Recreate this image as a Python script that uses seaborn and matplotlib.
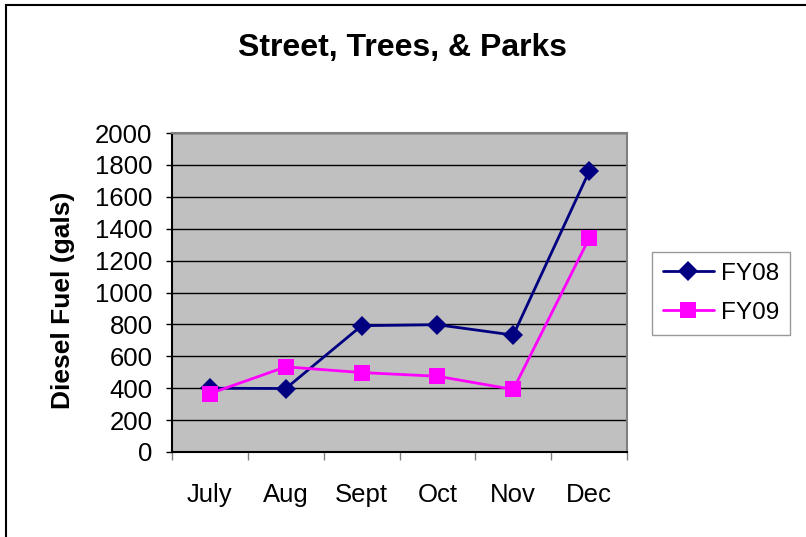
import pandas as pd
import numpy as np
import matplotlib
matplotlib.use("Agg")
import matplotlib.pyplot as plt
import seaborn as sns
from matplotlib.patches import Rectangle

# -----------------------------
# Data
# -----------------------------
months = ["July", "Aug", "Sept", "Oct", "Nov", "Dec"]
fy08 = [400, 398, 792, 798, 733, 1759]
fy09 = [366, 534, 498, 475, 392, 1340]

df = pd.DataFrame({
    "Month": months * 2,
    "Gallons": fy08 + fy09,
    "Year": ["FY08"] * 6 + ["FY09"] * 6,
})
df["pos"] = df["Month"].map({m: i for i, m in enumerate(months)})

sns.set_style("white")
plt.rcParams['font.family'] = ['Liberation Sans', 'DejaVu Sans']
plt.rcParams['text.color'] = "black"
plt.rcParams['xtick.color'] = "black"
plt.rcParams['ytick.color'] = "black"
plt.rcParams['axes.labelcolor'] = "black"

fig = plt.figure(figsize=(8.06, 5.37), dpi=100)
ax = fig.add_axes([0.2134, 0.1583, 0.5646, 0.594])
ax.set_facecolor("#C0C0C0")

sns.lineplot(data=df, x="pos", y="Gallons", hue="Year", style="Year",
             palette={"FY08": "#000080", "FY09": "#FF00FF"},
             markers={"FY08": "D", "FY09": "s"}, dashes=False,
             markersize=10.5, linewidth=2, markeredgewidth=0, ax=ax)

# squares are drawn a bit larger than the diamonds, like the original
for ln in ax.lines:
    if ln.get_marker() == "s":
        ln.set_markersize(11.5)

ax.set_xlim(-0.5, 5.5)
ax.set_ylim(0, 2000)
ax.set_yticks(np.arange(0, 2001, 200))
ax.yaxis.grid(True, color="black", linewidth=1)
ax.set_axisbelow(True)

ax.set_xticks(range(len(months)))
ax.set_xticklabels(months, fontsize=18.5)
ax.set_xticks(np.arange(-0.5, 6, 1), minor=True)
ax.tick_params(axis="x", which="major", length=0, pad=22)
ax.tick_params(axis="x", which="minor", length=6, width=1, color="#808080", direction="out", bottom=True)
ax.tick_params(axis="y", length=4, width=1, color="black", direction="out", left=True, labelsize=18.5, pad=10)

for s in ["top", "right"]:
    ax.spines[s].set_color("#808080")
    ax.spines[s].set_linewidth(1.5)
for s in ["left", "bottom"]:
    ax.spines[s].set_color("black")
    ax.spines[s].set_linewidth(1.5)

ax.set_xlabel("")
ax.set_ylabel("Diesel Fuel (gals)", fontsize=19, fontweight="bold")
ax.yaxis.set_label_coords(-0.213, 0.475)

fig.text(0.5, 1 - 48 / 537, "Street, Trees, & Parks", ha="center", va="center",
         fontsize=23, fontweight="bold")

leg = ax.legend(title=None, loc="upper left", bbox_to_anchor=(652 / 806, 1 - 252 / 537),
                bbox_transform=fig.transFigure,
                fontsize=17.5, frameon=True, fancybox=False, borderpad=0.45,
                handlelength=2.1, handletextpad=0.3, labelspacing=0.7,
                borderaxespad=0)
leg.get_frame().set_edgecolor("#808080")
leg.get_frame().set_linewidth(1)

# outer chart border
fig.patches.append(Rectangle((0.007, -0.01), 1.1, 1.0, transform=fig.transFigure,
                             fill=False, edgecolor="black", linewidth=1.5))

fig.savefig("out.png", dpi=100)
